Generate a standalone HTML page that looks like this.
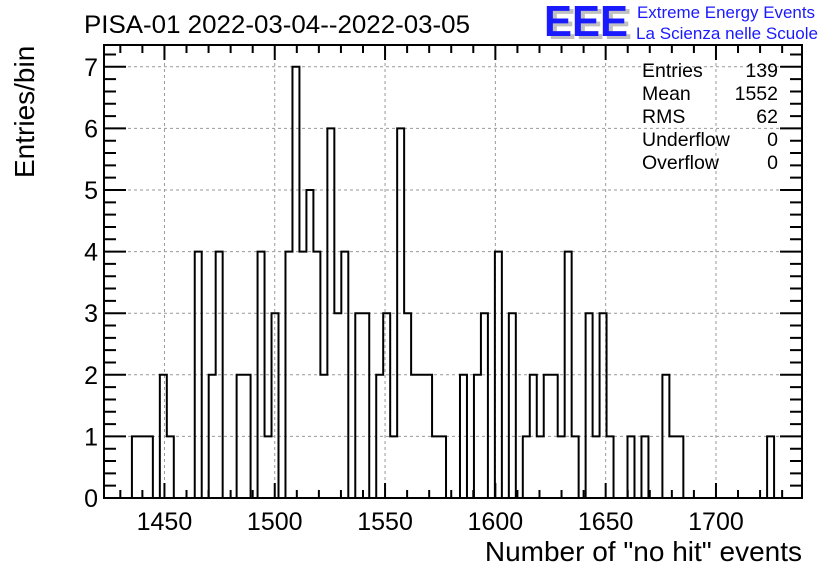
<!DOCTYPE html>
<html><head><meta charset="utf-8"><style>
body{margin:0;background:#fff;}
svg text{font-family:"Liberation Sans",sans-serif;}
</style></head><body>
<svg id="chart" width="836" height="572" viewBox="0 0 836 572" xmlns="http://www.w3.org/2000/svg">
<rect width="836" height="572" fill="#fff"/>
<g id="grid"></g>
<g id="ticks"></g>
<path id="hist" fill="none" stroke="#000" stroke-width="2"/>
<rect x="104" y="45" width="698" height="453" fill="none" stroke="#000" stroke-width="2"/>
<g id="labels" font-size="25"></g>
<text x="84" y="33" font-size="25" textLength="386" lengthAdjust="spacingAndGlyphs">PISA-01 2022-03-04--2022-03-05</text>
<text x="802" y="561" font-size="28" text-anchor="end">Number of "no hit" events</text>
<text transform="translate(34,178) rotate(-90)" font-size="28">Entries/bin</text>
<g>
<text x="548" y="39" font-size="44" font-weight="bold" fill="#c0c0c0" textLength="84" lengthAdjust="spacingAndGlyphs">EEE</text>
<text x="544" y="36" font-size="44" font-weight="bold" fill="#1a1aff" textLength="84" lengthAdjust="spacingAndGlyphs">EEE</text>
<text x="637" y="18" font-size="16.5" fill="#1a1aff" textLength="178" lengthAdjust="spacingAndGlyphs">Extreme Energy Events</text>
<text x="636" y="39" font-size="16.5" fill="#1a1aff" textLength="182" lengthAdjust="spacingAndGlyphs">La Scienza nelle Scuole</text>
</g>
<g font-size="19.5">
<text x="642" y="77">Entries</text><text x="778" y="77" text-anchor="end">139</text>
<text x="642" y="100">Mean</text><text x="778" y="100" text-anchor="end">1552</text>
<text x="642" y="123">RMS</text><text x="778" y="123" text-anchor="end">62</text>
<text x="642" y="146">Underflow</text><text x="778" y="146" text-anchor="end">0</text>
<text x="642" y="169">Overflow</text><text x="778" y="169" text-anchor="end">0</text>
</g>
</svg>
<script>
const counts=[0,0,0,0,1,1,1,0,2,1,0,0,0,4,0,2,4,0,0,2,2,0,4,1,3,0,4,7,4,5,4,2,6,3,4,0,3,3,0,2,3,1,6,3,2,2,2,1,1,0,0,2,0,2,3,0,4,0,3,0,1,2,1,2,2,1,4,1,0,3,1,3,1,0,0,1,0,1,0,0,2,1,1,0,0,0,0,0,0,0,0,0,0,0,0,1,0,0,0,0];
const xTicks=[1450,1500,1550,1600,1650,1700];
const yTicks=[0,1,2,3,4,5,6,7];
const xMin=1422.6, binW=3.164, xMax=xMin+binW*counts.length;
const L=104,R=802,T=45,B=498;
const X=v=>L+(v-xMin)/(xMax-xMin)*(R-L);
const Y=v=>B-v*61.6;
const NS="http://www.w3.org/2000/svg";
function mk(tag,parent){const e=document.createElementNS(NS,tag);document.getElementById(parent).appendChild(e);return e;}
let d="M"+X(xMin)+","+Y(0);
counts.forEach((c,i)=>{d+=" L"+X(xMin+i*binW)+","+Y(c)+" L"+X(xMin+(i+1)*binW)+","+Y(c);});
d+=" L"+X(xMax)+","+Y(0);
document.getElementById('hist').setAttribute('d',d);
yTicks.forEach(v=>{
 if(v>0){const g=mk('line','grid');
 
 
 g.setAttribute('x1',L);g.setAttribute('x2',R);g.setAttribute('y1',Y(v));g.setAttribute('y2',Y(v));g.setAttribute('stroke','#999');g.setAttribute('stroke-dasharray','3,3');}
 const t=mk('text','labels');
 
 
 t.setAttribute('x',L-6);t.setAttribute('y',Y(v)+9);t.setAttribute('text-anchor','end');t.textContent=v;
});
xTicks.forEach(v=>{
 const g=mk('line','grid');
 
 
 g.setAttribute('y1',T);g.setAttribute('y2',B);g.setAttribute('x1',X(v));g.setAttribute('x2',X(v));g.setAttribute('stroke','#999');g.setAttribute('stroke-dasharray','3,3');
 const t=mk('text','labels');
 
 
 t.setAttribute('x',X(v));t.setAttribute('y',530);t.setAttribute('text-anchor','middle');t.textContent=v;
});
let td="";
for(let v=1430;v<=1730;v+=10){const x=X(v);if(x<L||x>R)continue;const len=(v%50===0)?15:8;td+="M"+x+","+B+"v"+(-len)+"M"+x+","+T+"v"+len;}
for(let k=0;k<=36;k++){const v=k*0.2;const y=Y(v);if(y<T)continue;const len=(k%5===0)?22:12;td+="M"+L+","+y+"h"+len+"M"+R+","+y+"h"+(-len);}
const tp=mk('path','ticks');


tp.setAttribute('d',td);tp.setAttribute('stroke','#000');tp.setAttribute('stroke-width','2');
</script>
</body></html>
